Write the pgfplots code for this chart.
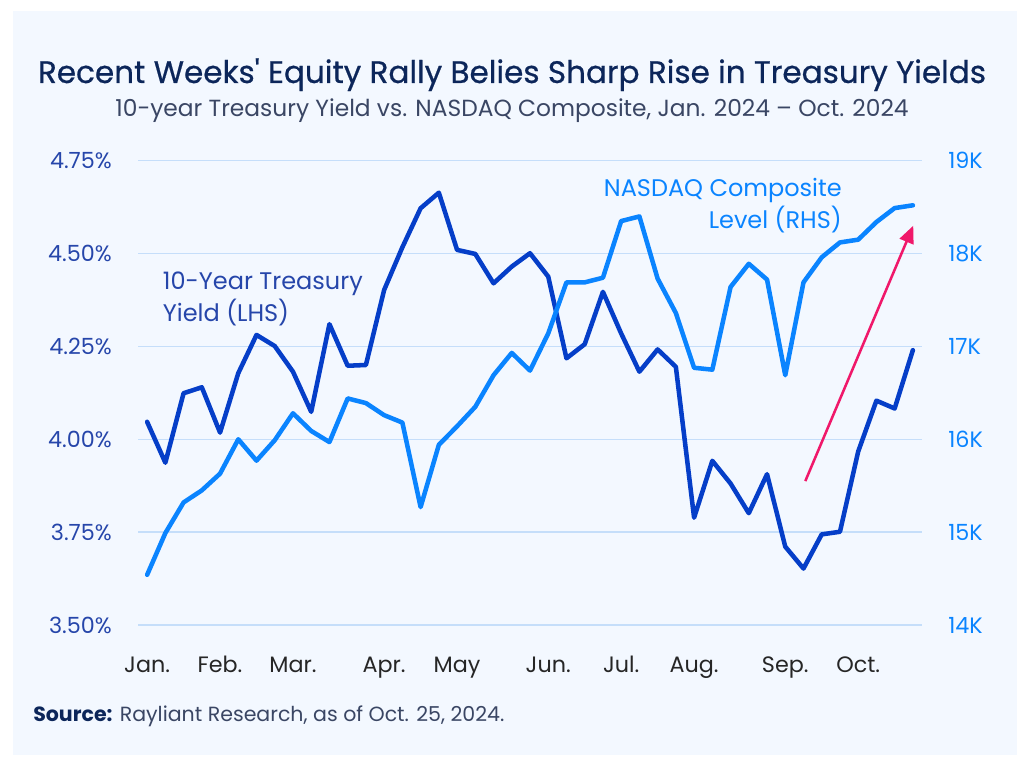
\documentclass[border=0pt]{standalone}
\usepackage{fontspec}
\setmainfont{Poppins}
\newfontfamily\titlefont[FakeBold=0.6]{Poppins}
\usepackage{pgfplots}
\pgfplotsset{compat=1.18}
\usetikzlibrary{arrows.meta}

\definecolor{panel}{RGB}{243,248,255}
\definecolor{grid}{RGB}{197,222,250}
\definecolor{tsy}{RGB}{5,62,200}
\definecolor{ndq}{RGB}{10,132,255}
\definecolor{navy}{RGB}{12,38,90}
\definecolor{subt}{RGB}{58,70,100}
\definecolor{lhs}{RGB}{38,70,170}
\definecolor{pinkarrow}{RGB}{240,24,106}

% weekly closes, Jan. 5 - Oct. 25, 2024
\pgfplotstableread{
x  y
0  4.047
1  3.937
2  4.124
3  4.140
4  4.018
5  4.178
6  4.281
7  4.251
8  4.182
9  4.074
10 4.310
11 4.198
12 4.200
13 4.402
14 4.517
15 4.622
16 4.664
17 4.510
18 4.499
19 4.420
20 4.465
21 4.501
22 4.438
23 4.218
24 4.256
25 4.397
26 4.285
27 4.182
28 4.242
29 4.195
30 3.789
31 3.942
32 3.881
33 3.801
34 3.906
35 3.711
36 3.652
37 3.744
38 3.751
39 3.967
40 4.104
41 4.083
42 4.240
}\treasury

\pgfplotstableread{
x  y
0  14.54
1  14.99
2  15.32
3  15.45
4  15.63
5  16.00
6  15.77
7  15.99
8  16.28
9  16.09
10 15.97
11 16.44
12 16.39
13 16.26
14 16.18
15 15.27
16 15.94
17 16.14
18 16.35
19 16.69
20 16.93
21 16.74
22 17.14
23 17.69
24 17.69
25 17.74
26 18.35
27 18.40
28 17.73
29 17.36
30 16.77
31 16.75
32 17.64
33 17.89
34 17.72
35 16.69
36 17.69
37 17.96
38 18.12
39 18.15
40 18.34
41 18.49
42 18.52
}\nasdaq

\pgfplotsset{
  common/.style={
    at={(103.5pt,101.25pt)}, anchor=south west,
    scale only axis, width=588pt, height=348.2pt,
    xmin=-0.5, xmax=42.5,
    axis line style={draw=none},
    major tick length=0pt,
    /pgf/number format/assume math mode=true,
    ticklabel style={font=\fontsize{16.7}{16.7}\selectfont, inner sep=0pt},
  }
}

\begin{document}
\begin{tikzpicture}
\path[fill=white] (0,0) rectangle (768pt,570pt);
\path[fill=panel] (9.75pt,3.75pt) rectangle (762.75pt,561.75pt);

\begin{axis}[common,
  ymin=3.5, ymax=4.75,
  ytick={3.5,3.75,4,4.25,4.5,4.75},
  yticklabel={\pgfmathprintnumber[fixed,fixed zerofill,precision=2]{\tick}\%},
  yticklabel style={text=lhs, xshift=-19.5pt},
  ymajorgrids, grid style={draw=grid, line width=1.1pt},
  xtick={0,4,8,13,17,22,26,30,35,39},
  xticklabels={Jan.,Feb.,Mar.,Apr.,May,Jun.,Jul.,Aug.,Sep.,Oct.},
  xticklabel style={text=black!85, yshift=-28.5pt, text height=1.2ex, text depth=0.3ex},
]
\addplot[tsy, line width=3.4pt, line join=round, line cap=round] table[x=x,y=y]{\treasury};
\end{axis}

\begin{axis}[common,
  ymin=14, ymax=19,
  axis y line*=right,
  axis x line=none,
  ytick={14,15,16,17,18,19},
  yticklabels={14K,15K,16K,17K,18K,19K},
  yticklabel style={text=ndq, xshift=19.5pt},
]
\addplot[ndq, line width=3.4pt, line join=round, line cap=round] table[x=x,y=y]{\nasdaq};
\draw[pinkarrow, line width=1.9pt, -{Triangle[length=13pt,width=11pt]}]
  (axis cs:36.1,15.55) -- (axis cs:42.02,18.30);
\end{axis}

\node[font=\titlefont\fontsize{23.3}{27}\selectfont, text=navy] at (384pt,514pt)
  {Recent Weeks' Equity Rally Belies Sharp Rise in Treasury Yields};
\node[font=\fontsize{17.5}{20}\selectfont, text=subt] at (384pt,487pt)
  {10-year Treasury Yield vs. NASDAQ Composite, Jan. 2024 -- Oct. 2024};
\node[font=\fontsize{18}{24}\selectfont, text=lhs, align=left, anchor=west, inner sep=0pt]
  at (122pt,345.8pt) {10-Year Treasury\\Yield (LHS)};
\node[font=\fontsize{18}{24}\selectfont, text=ndq, align=right, anchor=east, inner sep=0pt]
  at (631.5pt,415.5pt) {NASDAQ Composite\\Level (RHS)};
\node[font=\fontsize{15.4}{18}\selectfont, text=subt, anchor=west, inner sep=0pt]
  at (24.75pt,32.5pt) {\textcolor{navy}{\bfseries Source:} Rayliant Research, as of Oct. 25, 2024.};
\end{tikzpicture}
\end{document}
